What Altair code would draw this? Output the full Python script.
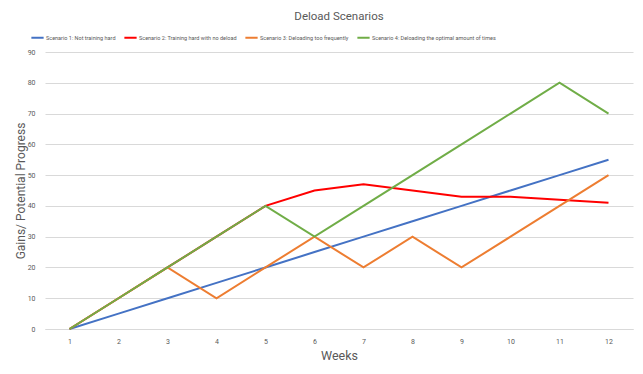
import altair as alt
import pandas as pd

weeks = list(range(1, 13))
series_names = [
    "Scenario 1: Not training hard",
    "Scenario 2: Training hard with no deload",
    "Scenario 3: Deloading too frequently",
    "Scenario 4: Deloading the optimal amount of times",
]
s1 = [0, 5, 10, 15, 20, 25, 30, 35, 40, 45, 50, 55]
s2 = [0, 10, 20, 30, 40, 45, 47, 45, 43, 43, 42, 41]
s3 = [0, 10, 20, 10, 20, 30, 20, 30, 20, 30, 40, 50]
s4 = [0, 10, 20, 30, 40, 30, 40, 50, 60, 70, 80, 70]
colors = ["#4472C4", "#FF0000", "#ED7D31", "#70AD47"]

rows = []
for name, vals in zip(series_names, [s1, s2, s3, s4]):
    for w, v in zip(weeks, vals):
        rows.append({"Week": w, "Value": v, "Series": name})
df = pd.DataFrame(rows)

FONT = "Roboto"
GRAY = "#595959"

chart = alt.Chart(df).mark_line(strokeWidth=2).encode(
    x=alt.X("Week:O", title="Weeks",
            scale=alt.Scale(paddingInner=1, paddingOuter=0.5),
            axis=alt.Axis(labelAngle=0, ticks=False, domain=True, domainColor="#d9d9d9",
                          labelColor=GRAY, labelFontSize=7, labelPadding=8,
                          titleColor=GRAY, titleFontSize=12.5, titleFontWeight="normal",
                          titleBaseline="middle", titleY=26)),
    y=alt.Y("Value:Q", title="Gains/ Potential Progress",
            scale=alt.Scale(domain=[0, 90], nice=False),
            axis=alt.Axis(values=list(range(0, 100, 10)), ticks=False, domain=False,
                          gridColor="#d9d9d9", labelColor=GRAY, labelFontSize=7,
                          labelPadding=10,
                          titleColor=GRAY, titleFontSize=12, titleFontWeight="normal",
                          titleBaseline="middle", titleX=-25)),
    color=alt.Color("Series:N", sort=series_names,
                    scale=alt.Scale(domain=series_names, range=colors),
                    legend=alt.Legend(title=None, orient="none", direction="horizontal",
                                      legendX=-15, legendY=-22,
                                      symbolType="stroke", symbolStrokeWidth=2,
                                      symbolSize=150, labelFontSize=5.5, labelColor=GRAY,
                                      columnPadding=4, symbolOffset=0, labelOffset=1)),
).properties(
    width=588, height=277,
    title=alt.TitleParams("Deload Scenarios", fontSize=11.5, color=GRAY, fontWeight="normal",
                          anchor="middle", offset=8),
    padding={"left": 37, "top": 44, "right": 2, "bottom": 37},
    autosize=alt.AutoSizeParams(type="none"),
).configure(font=FONT).configure_view(stroke=None)

chart.save("out.html", embed_options={"renderer": "svg", "actions": False})
